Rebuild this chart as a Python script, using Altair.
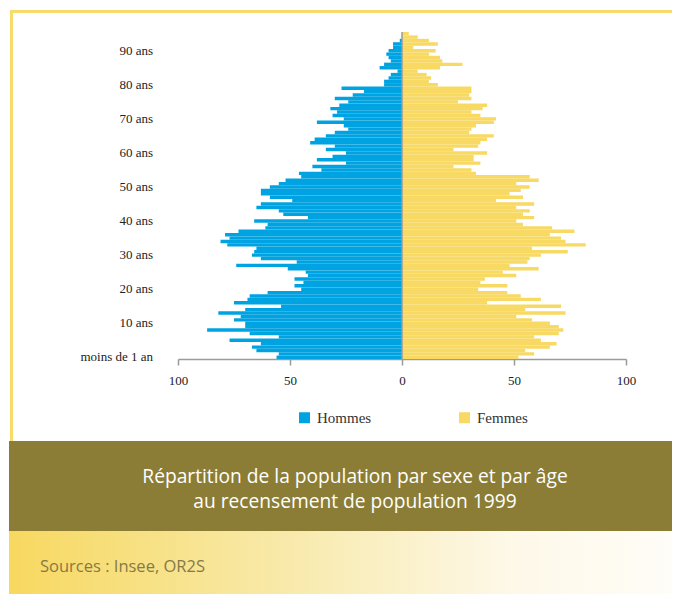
import altair as alt
import pandas as pd

# ---- data ----
hommes = [56, 55, 65, 67, 63, 77, 55, 68, 87, 70,
          70, 75, 72, 82, 70, 54, 75, 69, 68, 60,
          45, 48, 44, 48, 42, 43, 51, 74, 47, 63,
          67, 66, 65, 78, 81, 77, 79, 73, 61, 60,
          66, 42, 53, 55, 65, 63, 49, 59, 63, 63,
          59, 55, 52, 45, 46, 36, 40, 25, 38, 31,
          25, 34, 30, 41, 39, 34, 30, 24, 26, 38,
          26, 31, 29, 32, 28, 24, 30, 22, 17, 27,
          8, 8, 6, 5, 2, 10, 8, 5, 6, 7,
          6, 4, 4, 1]
femmes = [52, 59, 55, 66, 69, 62, 59, 70, 72, 70,
          66, 58, 51, 73, 55, 71, 38, 62, 53, 47,
          34, 47, 35, 37, 51, 45, 61, 48, 56, 57,
          62, 74, 58, 82, 73, 71, 66, 77, 67, 54,
          51, 59, 54, 57, 51, 59, 42, 54, 48, 53,
          57, 51, 61, 57, 33, 31, 23, 35, 32, 32,
          38, 23, 34, 35, 38, 41, 30, 31, 33, 41,
          42, 35, 31, 36, 38, 25, 31, 30, 31, 31,
          16, 12, 13, 11, 7, 17, 27, 18, 17, 12,
          15, 5, 16, 12, 7, 3]
sexes = ["Hommes", "Femmes"]
x_ticks = [-100, -50, 0, 50, 100]
y_label_ages = [0, 10, 20, 30, 40, 50, 60, 70, 80, 90]
y_label_texts = ["moins de 1 an", "10 ans", "20 ans", "30 ans", "40 ans",
                 "50 ans", "60 ans", "70 ans", "80 ans", "90 ans"]
title_lines = ["Répartition de la population par sexe et par âge",
               "au recensement de population 1999"]
source_text = "Sources : Insee, OR2S"

BLUE = "#00a3e1"
YELLOW = "#f7d963"
GREY = "#9a9a9a"
SERIF = "Liberation Serif"

rows = []
for age, v in enumerate(hommes):
    rows.append({"age": age, "age2": age + 1, "zero": 0, "val": -v, "sexe": "Hommes"})
for age, v in enumerate(femmes):
    rows.append({"age": age, "age2": age + 1, "zero": 0, "val": v, "sexe": "Femmes"})
df = pd.DataFrame(rows)
labels_df = pd.DataFrame({"pos": [a + 0.5 for a in y_label_ages], "txt": y_label_texts})
one = pd.DataFrame({"k": [0]})
rule_df = pd.DataFrame({"x0": [0], "y0": [0], "y1": [96]})

xscale = alt.Scale(domain=[-100, 100], nice=False, zero=False)
yscale = alt.Scale(domain=[0, 96], nice=False, zero=False)

bars = alt.Chart(df).mark_rect().encode(
    x=alt.X("zero:Q", scale=xscale,
            axis=alt.Axis(values=x_ticks, labelExpr="abs(datum.value) + ''",
                          grid=False, domainColor=GREY, domainWidth=1.5,
                          tickColor=GREY, tickWidth=1.5, tickSize=6,
                          labelFont=SERIF, labelFontSize=13, labelColor="#222",
                          labelPadding=9, labelOverlap=False, labelFlush=False,
                          title=None)),
    x2="val:Q",
    y=alt.Y("age:Q", scale=yscale, axis=None),
    y2="age2:Q",
    color=alt.Color("sexe:N", scale=alt.Scale(domain=sexes, range=[BLUE, YELLOW]),
                    legend=alt.Legend(orient="none", direction="horizontal",
                                      legendX=119, legendY=378, title=None,
                                      symbolType="square", symbolSize=121,
                                      symbolStrokeWidth=0, symbolOpacity=1,
                                      labelFont=SERIF, labelFontSize=15,
                                      labelColor="#333", labelOffset=5,
                                      columnPadding=85, padding=0)),
)

ylabels = alt.Chart(labels_df).mark_text(font=SERIF, fontSize=13, color="#222",
                                         align="right", baseline="middle").encode(
    x=alt.value(-25), y=alt.Y("pos:Q", scale=yscale, axis=None), text="txt:N")

zero_rule = alt.Chart(rule_df).mark_rule(color=GREY, strokeWidth=1.5).encode(
    x=alt.X("x0:Q", scale=xscale), y=alt.Y("y0:Q", scale=yscale, axis=None), y2="y1:Q")

def box(x, x2, y, y2, color):
    return alt.Chart(one).mark_rect(color=color).encode(
        x=alt.value(x), x2=alt.value(x2), y=alt.value(y), y2=alt.value(y2))

top_line = box(-168, 500, -22, -19, "#f8dc6a")
left_line = box(-168, -165, -22, 409, "#f8dc6a")
banner = box(-169, 500, 409, 499, "#8b7d35")
grad = alt.LinearGradient(gradient="linear", x1=0, x2=1, y1=0, y2=0,
                          stops=[alt.GradientStop(color="#f7d860", offset=0),
                                 alt.GradientStop(color="#f8e9a8", offset=0.4),
                                 alt.GradientStop(color="#fdf8e8", offset=0.75),
                                 alt.GradientStop(color="#fffdf8", offset=1)])
sources_box = alt.Chart(one).mark_rect(color=grad).encode(
    x=alt.value(-169), x2=alt.value(500), y=alt.value(499), y2=alt.value(580))

t1 = alt.Chart(one).mark_text(text=title_lines[0], font="Open Sans", fontSize=19.2,
                              color="white", align="center", baseline="middle").encode(
    x=alt.value(177), y=alt.value(445))
t2 = alt.Chart(one).mark_text(text=title_lines[1], font="Open Sans", fontSize=19.2,
                              color="white", align="center", baseline="middle").encode(
    x=alt.value(177), y=alt.value(470))
src = alt.Chart(one).mark_text(text=source_text, font="Open Sans", fontSize=16.5,
                               color="#857a45", align="left", baseline="middle").encode(
    x=alt.value(-138), y=alt.value(535))

chart = alt.layer(top_line, left_line, banner, sources_box, bars, zero_rule, ylabels,
                  t1, t2, src).properties(
    width=448, height=327,
    padding={"left": 170, "top": 24, "right": 46, "bottom": 235},
    autosize=alt.AutoSizeParams(type="none"),
    background="white",
).configure_view(stroke=None).configure_axis(labelFont=SERIF, labelFontSize=13)

chart.save("out.html", embed_options={"renderer": "svg", "actions": False})
